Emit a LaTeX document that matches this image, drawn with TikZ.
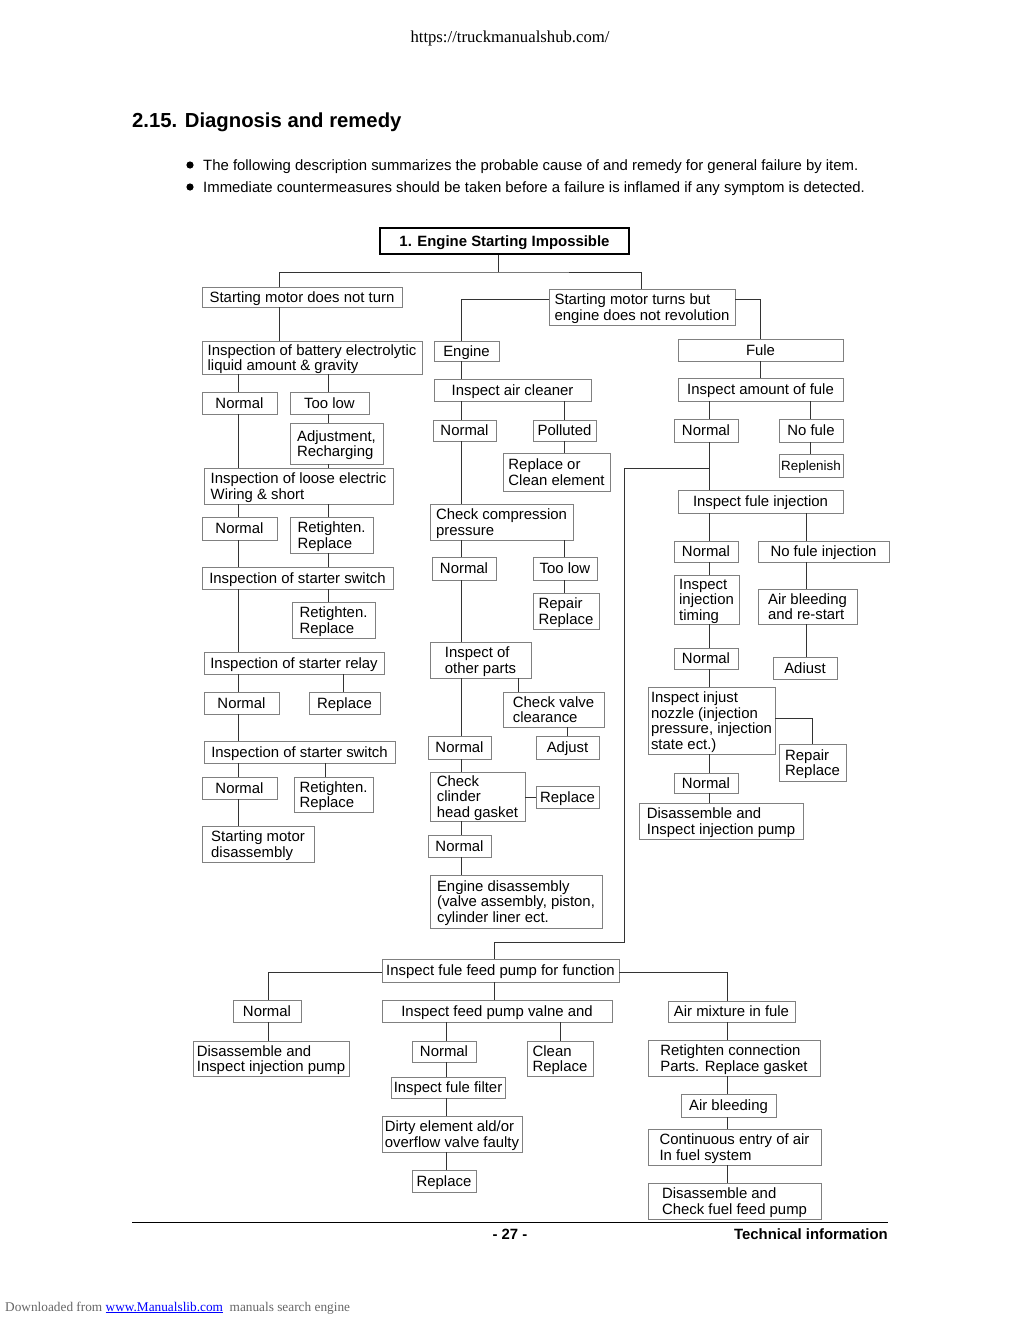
\documentclass[tikz,border=0pt]{standalone}
\usepackage{fontspec}
\setmainfont{Liberation Sans}
\newfontfamily\pageserif{Liberation Serif}
\newcommand{\bxfont}{\fontsize{14.9}{15.6}\selectfont}
\tikzset{box/.style={draw=black!50, line width=0.9pt, inner sep=0pt, text depth=0pt, align=left, font=\bxfont},
headbox/.style={draw=black, line width=1.8pt, inner sep=0pt, text depth=0pt, font=\bfseries\bxfont},
link/.style={draw=black!80, line width=0.8pt},
sz/.style 2 args={minimum width=#1pt, minimum height=#2pt},}

\begin{document}
\begin{tikzpicture}[x=1pt, y=-1pt]
\fill[white] (0,0) rectangle (1020,1320);
\useasboundingbox (0,0) rectangle (1020,1320);

% page text
\node[anchor=base, inner sep=0, font=\pageserif\fontsize{16.7}{18}\selectfont] (url) at (510,42) {https://truckmanualshub.com/};
\node[anchor=base west, inner sep=0, font=\bfseries\fontsize{20.3}{22}\selectfont] (heading) at (132,127) {2.15. Diagnosis and remedy};
\fill (190,165) circle (3.6);
\fill (190,187) circle (3.6);
\node[anchor=base west, inner sep=0, font=\bxfont] (lineone) at (203,170) {The following description summarizes the probable cause of and remedy for general failure by item.};
\node[anchor=base west, inner sep=0, font=\bxfont] (linetwo) at (203,192) {Immediate countermeasures should be taken before a failure is inflamed if any symptom is detected.};

% columns
\coordinate (cola) at (238,0);
\coordinate (colb) at (328,0);
\coordinate (colc) at (343,0);
\coordinate (cold) at (325,0);
\coordinate (cole) at (279,0);
\coordinate (colf) at (461,0);
\coordinate (colg) at (518,0);
\coordinate (colh) at (564,0);
\coordinate (coli) at (709,0);
\coordinate (colj) at (806,0);
\coordinate (colk) at (810,0);
\coordinate (coll) at (760,0);
\coordinate (colm) at (494,0);
\coordinate (coln) at (268,0);
\coordinate (colo) at (446,0);
\coordinate (colp) at (727,0);
\coordinate (colq) at (560,0);
\coordinate (colr) at (567,0);
\coordinate (cols) at (641,0);
\coordinate (split) at (498,272);
\coordinate (fa) at (709,468);
\coordinate (fb) at (624,942);

\node[headbox, sz={249}{26}] (title) at (504.5,241) {1. Engine Starting Impossible};
\node[box, sz={200}{20}] (motor) at (302,297) {Starting motor does not turn};
\node[box, sz={186}{36}] (turns) at (642,307) {Starting motor turns but\\engine does not revolution};

% starting motor does not turn
\node[box, sz={220}{33}] (battery) at (312,357.5) {Inspection of battery electrolytic\\liquid amount \& gravity};
\node[box, sz={75}{22}] (bnormal) at (239.5,403) {Normal};
\node[box, sz={79}{22}] (btoolow) at (329.5,403) {Too low};
\node[box, sz={93}{41}] (recharge) at (336.5,443.5) {Adjustment,\\Recharging};
\node[box, sz={189}{36}] (wiring) at (298.5,486) {Inspection of loose electric\\Wiring \& short};
\node[box, sz={75}{23}] (wnormal) at (239.5,528.5) {Normal};
\node[box, sz={83}{36}] (wfix) at (331.5,535) {Retighten.\\Replace};
\node[box, sz={191}{22}] (switcha) at (297.5,578) {Inspection of starter switch};
\node[box, sz={83}{36}] (safix) at (333.5,620) {Retighten.\\Replace};
\node[box, sz={180}{22}] (relay) at (294,663) {Inspection of starter relay};
\node[box, sz={75}{22}] (rnormal) at (241.5,703) {Normal};
\node[box, sz={71}{22}] (rfix) at (344.5,703) {Replace};
\node[box, sz={191}{22}] (switchb) at (299.5,752) {Inspection of starter switch};
\node[box, sz={75}{22}] (snormal) at (239.5,788) {Normal};
\node[box, sz={79}{35}] (sbfix) at (333.5,794.5) {Retighten.\\Replace};
\node[box, sz={112}{36}] (motordis) at (258,844) {Starting motor\\disassembly};

% engine
\node[box, sz={65}{20}] (engine) at (466.5,351) {Engine};
\node[box, sz={157}{22}] (aircl) at (512.5,390) {Inspect air cleaner};
\node[box, sz={63}{21}] (anormal) at (464.5,430.5) {Normal};
\node[box, sz={63}{21}] (polluted) at (564.5,430.5) {Polluted};
\node[box, sz={107}{38}] (cleanel) at (556.5,472) {Replace or\\Clean element};
\node[box, sz={143}{36}] (compress) at (501.5,522) {Check compression\\pressure};
\node[box, sz={64}{23}] (cnormal) at (464,568.5) {Normal};
\node[box, sz={64}{23}] (ctoolow) at (565,568.5) {Too low};
\node[box, sz={66}{36}] (cfix) at (566,611) {Repair\\Replace};
\node[box, sz={101}{36}] (others) at (480.5,660) {Inspect of\\other parts};
\node[box, sz={101}{35}] (valve) at (553.5,709.5) {Check valve\\clearance};
\node[box, sz={63}{23}] (onormal) at (459.5,747.5) {Normal};
\node[box, sz={63}{23}] (vadjust) at (567.5,747.5) {Adjust};
\node[box, sz={95}{49}] (gasket) at (477.5,796.5) {Check\\clinder\\head gasket};
\node[box, sz={63}{22}] (gfix) at (567.5,797) {Replace};
\node[box, sz={63}{22}] (gnormal) at (459.5,846) {Normal};
\node[box, sz={172}{53}] (engdis) at (516,901.5) {Engine disassembly\\(valve assembly, piston,\\cylinder liner ect.};

% fuel
\node[box, sz={165}{22}] (fuel) at (760.5,350) {Fule};
\node[box, sz={165}{23}] (amount) at (760.5,389.5) {Inspect amount of fule};
\node[box, sz={64}{23}] (fnormal) at (706,430.5) {Normal};
\node[box, sz={64}{23}] (nofuel) at (811,430.5) {No fule};
\node[box, sz={64}{23}, font=\fontsize{13.4}{14}\selectfont] (refill) at (811,465.5) {Replenish};
\node[box, sz={165}{23}] (inject) at (760.5,501.5) {Inspect fule injection};
\node[box, sz={64}{21}] (inormal) at (706,551.5) {Normal};
\node[box, sz={131}{21}] (noinj) at (823.5,551.5) {No fule injection};
\node[box, sz={65}{49}] (timing) at (706.5,599.5) {Inspect\\injection\\timing};
\node[box, sz={99}{35}] (bleed) at (807.5,606.5) {Air bleeding\\and re-start};
\node[box, sz={64}{22}] (iadjust) at (805,668) {Adiust};
\node[box, sz={64}{21}] (tnormal) at (706,658.5) {Normal};
\node[box, sz={127}{67}] (nozzle) at (711.5,720.5) {Inspect injust\\nozzle (injection\\pressure, injection\\state ect.)};
\node[box, sz={67}{37}] (nfix) at (812.5,762.5) {Repair\\Replace};
\node[box, sz={64}{20}] (nnormal) at (706,783) {Normal};
\node[box, sz={164}{36}] (pumpdis) at (721,821) {Disassemble and\\Inspect injection pump};

% feed pump
\node[box, sz={237}{23}] (feed) at (500.5,970.5) {Inspect fule feed pump for function};
\node[box, sz={68}{22}] (pnormal) at (267,1011) {Normal};
\node[box, sz={156}{35}] (pumpdisb) at (271,1058.5) {Disassemble and\\Inspect injection pump};
\node[box, sz={230}{22}] (valne) at (497,1011) {Inspect feed pump valne and};
\node[box, sz={64}{21}] (vnormal) at (444,1051.5) {Normal};
\node[box, sz={66}{35}] (vclean) at (560,1058.5) {Clean\\Replace};
\node[box, sz={114}{21}] (filter) at (448,1087.5) {Inspect fule filter};
\node[box, sz={140}{36}] (dirty) at (452,1134) {Dirty element ald/or\\overflow valve faulty};
\node[box, sz={64}{22}] (freplace) at (444,1181) {Replace};
\node[box, sz={127}{21}] (airmix) at (731.5,1011.5) {Air mixture in fule};
\node[box, sz={172}{36}] (retight) at (734,1058) {Retighten connection\\Parts. Replace gasket};
\node[box, sz={95}{23}] (bleedb) at (728.5,1105.5) {Air bleeding};
\node[box, sz={173}{36}] (entry) at (734.5,1147) {Continuous entry of air\\In fuel system};
\node[box, sz={173}{36}] (pumpck) at (734.5,1201) {Disassemble and\\Check fuel feed pump};

% top connections
\draw[link] (title.south -| split) -- (split);
\draw[link] (motor.north -| cole) |- (split) -| (turns.north -| cols);
\draw[link] (motor.south -| cole) -- (battery.north -| cole);
\draw[link] ([yshift=8pt]turns.west) -| (engine.north -| colf);
\draw[link] ([yshift=8pt]turns.east) -| (fuel.north -| coll);

% left connections
\draw[link] (battery.south -| cola) -- (bnormal.north -| cola);
\draw[link] (battery.south -| colb) -- (btoolow.north -| colb);
\draw[link] (btoolow.south -| colb) -- (recharge.north -| colb);
\draw[link] (recharge.south -| colb) -- (wiring.north -| colb);
\draw[link] (bnormal.south -| cola) -- (wiring.north -| cola);
\draw[link] (wiring.south -| cola) -- (wnormal.north -| cola);
\draw[link] (wiring.south -| colb) -- (wfix.north -| colb);
\draw[link] (wnormal.south -| cola) -- (switcha.north -| cola);
\draw[link] (wfix.south -| colb) -- (switcha.north -| colb);
\draw[link] (switcha.south -| colb) -- (safix.north -| colb);
\draw[link] (switcha.south -| cola) -- (relay.north -| cola);
\draw[link] (relay.south -| cola) -- (rnormal.north -| cola);
\draw[link] (relay.south -| colc) -- (rfix.north -| colc);
\draw[link] (rnormal.south -| cola) -- (switchb.north -| cola);
\draw[link] (switchb.south -| cola) -- (snormal.north -| cola);
\draw[link] (switchb.south -| cold) -- (sbfix.north -| cold);
\draw[link] (snormal.south -| cola) -- (motordis.north -| cola);

% engine connections
\draw[link] (engine.south -| colf) -- (aircl.north -| colf);
\draw[link] (aircl.south -| colf) -- (anormal.north -| colf);
\draw[link] (aircl.south -| colh) -- (polluted.north -| colh);
\draw[link] (polluted.south -| colh) -- (cleanel.north -| colh);
\draw[link] (anormal.south -| colf) -- (compress.north -| colf);
\draw[link] (compress.south -| colf) -- (cnormal.north -| colf);
\draw[link] (compress.south -| colh) -- (ctoolow.north -| colh);
\draw[link] (ctoolow.south -| colh) -- (cfix.north -| colh);
\draw[link] (cnormal.south -| colf) -- (others.north -| colf);
\draw[link] (others.south -| colg) -- (valve.north -| colg);
\draw[link] (valve.south -| colr) -- (vadjust.north -| colr);
\draw[link] (others.south -| colf) -- (onormal.north -| colf);
\draw[link] (onormal.south -| colf) -- (gasket.north -| colf);
\draw[link] (gasket.east |- gfix.west) -- (gfix.west);
\draw[link] (gasket.south -| colf) -- (gnormal.north -| colf);
\draw[link] (gnormal.south -| colf) -- (engdis.north -| colf);

% fuel connections
\draw[link] (fuel.south -| coll) -- (amount.north -| coll);
\draw[link] (amount.south -| coli) -- (fnormal.north -| coli);
\draw[link] (amount.south -| colk) -- (nofuel.north -| colk);
\draw[link] (nofuel.south -| colk) -- (refill.north -| colk);
\draw[link] (fnormal.south -| coli) -- (inject.north -| coli);
\draw[link] (fa) -| (fb) -| (feed.north -| colm);
\draw[link] (inject.south -| coli) -- (inormal.north -| coli);
\draw[link] (inject.south -| colj) -- (noinj.north -| colj);
\draw[link] (noinj.south -| colj) -- (bleed.north -| colj);
\draw[link] (bleed.south -| colj) -- (iadjust.north -| colj);
\draw[link] (inormal.south -| coli) -- (timing.north -| coli);
\draw[link] (timing.south -| coli) -- (tnormal.north -| coli);
\draw[link] (tnormal.south -| coli) -- (nozzle.north -| coli);
\draw[link] ([yshift=2pt]nozzle.east) -| (nfix.north);
\draw[link] (nozzle.south -| coli) -- (nnormal.north -| coli);
\draw[link] (nnormal.south -| coli) -- (pumpdis.north -| coli);

% feed pump connections
\draw[link] ([yshift=-2pt]feed.west) -| (pnormal.north -| coln);
\draw[link] ([yshift=-2pt]feed.east) -| (airmix.north -| colp);
\draw[link] (feed.south -| colm) -- (valne.north -| colm);
\draw[link] (pnormal.south -| coln) -- (pumpdisb.north -| coln);
\draw[link] (valne.south -| colo) -- (vnormal.north -| colo);
\draw[link] (valne.south -| colq) -- (vclean.north -| colq);
\draw[link] (vnormal.south -| colo) -- (filter.north -| colo);
\draw[link] (filter.south -| colo) -- (dirty.north -| colo);
\draw[link] (dirty.south -| colo) -- (freplace.north -| colo);
\draw[link] (airmix.south -| colp) -- (retight.north -| colp);
\draw[link] (retight.south -| colp) -- (bleedb.north -| colp);
\draw[link] (bleedb.south -| colp) -- (entry.north -| colp);
\draw[link] (entry.south -| colp) -- (pumpck.north -| colp);

% footer
\draw[line width=1.6pt] (132,1222.5) -- (888,1222.5);
\node[anchor=base, inner sep=0, font=\bfseries\bxfont] (page) at (510,1239) {- 27 -};
\node[anchor=base east, inner sep=0, font=\bfseries\bxfont] (tech) at (888,1239) {Technical information};
\node[anchor=base west, inner sep=0, text=black!60, font=\pageserif\fontsize{13.3}{14}\selectfont] (source) at (5,1311) {Downloaded from \textcolor{blue}{\underline{www.Manualslib.com}}\ \ manuals search engine};
\end{tikzpicture}
\end{document}
